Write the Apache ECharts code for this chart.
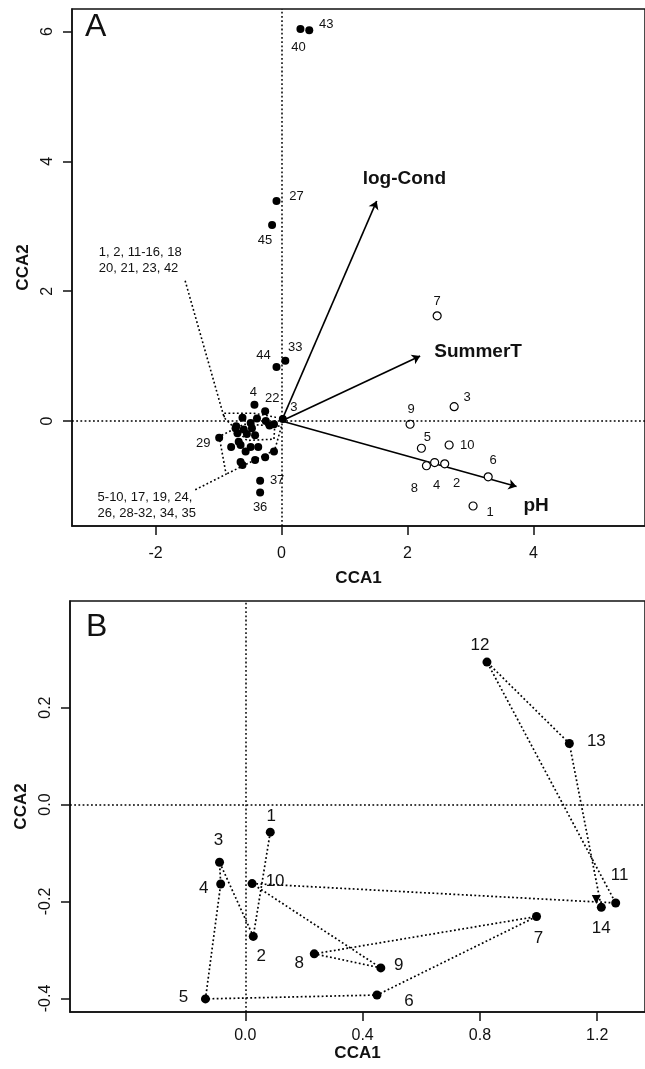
<!DOCTYPE html>
<html>
<head>
<meta charset="utf-8">
<script src="https://cdn.jsdelivr.net/npm/echarts@6/dist/echarts.min.js"></script>
<style>
* { margin: 0; padding: 0; }
body { background: #fff; }
#mychart { width: 645px; height: 1069px; }
</style>
</head>
<body>
<div id="mychart"></div>
<script>
// ---- panel A: species scores (filled), empty name = unlabelled
const spName = ['40','43','27','45','33','44','4','22','3','29','37','36',
  '','','','','','','','','','','','','','','','','','','','','','','',''];
const spX = [0.30, 0.44, -0.08, -0.15, 0.06, -0.08, -0.43, -0.26, 0.02, -0.99, -0.34, -0.34,
  -0.62, -0.73, -0.60, -0.47, -0.70, -0.55, -0.42, -0.80, -0.65, -0.49, -0.37, -0.57,
  -0.68, -0.62, -0.65, -0.42, -0.26, -0.12, -0.72, -0.49, -0.39, -0.25, -0.19, -0.12];
const spY = [6.04, 6.02, 3.39, 3.02, 0.93, 0.83, 0.25, 0.15, 0.03, -0.26, -0.92, -1.10,
  0.05, -0.11, -0.13, -0.11, -0.19, -0.20, -0.22, -0.40, -0.37, -0.40, -0.40, -0.47,
  -0.32, -0.68, -0.63, -0.60, -0.56, -0.47, -0.08, -0.03, 0.04, 0.00, -0.07, -0.05];

// ---- panel A: site scores (open)
const siteName = ['1','2','3','4','5','6','7','8','9','10'];
const siteX = [3.04, 2.59, 2.74, 2.43, 2.22, 3.28, 2.47, 2.30, 2.04, 2.66];
const siteY = [-1.31, -0.66, 0.22, -0.64, -0.42, -0.86, 1.62, -0.69, -0.05, -0.37];

// ---- panel A: environmental vectors
const envName = ['log-Cond', 'SummerT', 'pH'];
const envX = [1.51, 2.20, 3.73];
const envY = [3.39, 1.00, -1.01];

// ---- panel A: grouped-species notes
const groupText = ['1, 2, 11-16, 18', '20, 21, 23, 42', '5-10, 17, 19, 24,', '26, 28-32, 34, 35'];

// ---- panel B: trajectory 1..14
const trajName = ['1','2','3','4','5','6','7','8','9','10','11','12','13','14'];
const trajX = [0.085, 0.027, -0.088, -0.084, -0.136, 0.449, 0.993, 0.235, 0.462, 0.023, 1.263, 0.824, 1.105, 1.214];
const trajY = [-0.057, -0.272, -0.119, -0.164, -0.401, -0.393, -0.231, -0.308, -0.337, -0.163, -0.203, 0.294, 0.126, -0.212];
const endX = [1.197];
const endY = [-0.196];

// tick labels
const ticksAx = [-2, 0, 2, 4];
const ticksAy = [0, 2, 4, 6];
const ticksBx = [0.0, 0.4, 0.8, 1.2];
const ticksBy = [-0.4, -0.2, 0.0, 0.2];

// label placement (pixels), style only
const spOff = {'40':[-2,18],'43':[17,-6],'27':[20,-5],'45':[-7,15],'33':[10,-13],'44':[-13,-12],
  '4':[-1,-12],'22':[7,-13],'3':[11,-12],'29':[-16,6],'37':[17,0],'36':[0,15]};
const siteOff = {'1':[17,6],'2':[12,20],'3':[13,-9],'4':[2,23],'5':[6,-11],'6':[5,-16],'7':[0,-14],
  '8':[-12,23],'9':[1,-15],'10':[18,0]};
const trajOff = {'1':[1,-16],'2':[8,20],'3':[-1,-22],'4':[-17,4],'5':[-22,-2],'6':[32,6],'7':[2,22],
  '8':[-15,9],'9':[18,-3],'10':[23,-2],'11':[4,-28],'12':[-7,-17],'13':[27,-2],'14':[0,21]};

const FONT = 'Liberation Sans, Arial, sans-serif';
const INK = '#111';
const DOTS = [1.8, 2.4];

function pts(xs, ys, names, off, fs) {
  return xs.map((x, i) => {
    const o = off[names[i]];
    return {
      value: [x, ys[i]],
      name: names[i],
      label: o ? { show: true, position: 'inside', offset: o, formatter: '{b}',
        color: INK, fontSize: fs, fontFamily: FONT, textBorderWidth: 0 } : { show: false }
    };
  });
}

function textPt(x, y, txt, fs, bold, align) {
  return {
    value: [x, y],
    label: { show: true, position: 'inside', formatter: txt, color: INK, fontSize: fs,
      fontWeight: bold ? 'bold' : 'normal', fontFamily: FONT, align: align || 'center',
      textBorderWidth: 0 }
  };
}

function xAx(grid, min, max, ticks, gap, dec, margin) {
  return {
    type: 'value', gridIndex: grid, min: min, max: max,
    name: 'CCA1', nameLocation: 'middle', nameGap: gap,
    nameTextStyle: { fontSize: 17, fontWeight: 'bold', color: INK, fontFamily: FONT },
    splitLine: { show: false },
    axisLine: { show: true, onZero: false, lineStyle: { color: INK, width: 1.5 } },
    axisTick: { show: true, length: 9, customValues: ticks, lineStyle: { color: INK, width: 1.5 } },
    axisLabel: { customValues: ticks, fontSize: 16, color: INK, fontFamily: FONT, margin: margin,
      formatter: v => v.toFixed(dec) }
  };
}
function yAx(grid, min, max, ticks, gap, dec) {
  return {
    type: 'value', gridIndex: grid, min: min, max: max,
    name: 'CCA2', nameLocation: 'middle', nameGap: gap, nameRotate: 90,
    nameTextStyle: { fontSize: 17, fontWeight: 'bold', color: INK, fontFamily: FONT },
    splitLine: { show: false },
    axisLine: { show: true, onZero: false, lineStyle: { color: INK, width: 1.5 } },
    axisTick: { show: true, length: 9, customValues: ticks, lineStyle: { color: INK, width: 1.5 } },
    axisLabel: { customValues: ticks, rotate: 90, fontSize: 16, color: INK, fontFamily: FONT, margin: 16,
      formatter: v => v.toFixed(dec) }
  };
}

function dotted(xi, coords) {
  return {
    type: 'line', xAxisIndex: xi, yAxisIndex: xi, data: coords, showSymbol: false, silent: true,
    lineStyle: { type: DOTS, color: '#000', width: 1.6 }
  };
}

function zeroLines(xi) {
  return {
    type: 'line', xAxisIndex: xi, yAxisIndex: xi, data: [], silent: true,
    markLine: {
      silent: true, symbol: ['none', 'none'], label: { show: false },
      lineStyle: { type: DOTS, color: '#000', width: 1.5 },
      data: [{ xAxis: 0 }, { yAxis: 0 }]
    }
  };
}

function initChart() {
  var chart = echarts.init(document.getElementById('mychart'));
  const option = {
    animation: false,
    grid: [
      { left: 72, top: 9, width: 588, height: 517, show: true, borderColor: INK, borderWidth: 1.5 },
      { left: 70, top: 601, width: 590, height: 411, show: true, borderColor: INK, borderWidth: 1.5 }
    ],
    xAxis: [
      xAx(0, -3.326, 5.769, ticksAx, 44, 0, 20),
      xAx(1, -0.598, 1.363, ticksBx, 31, 1, 16)
    ],
    yAxis: [
      yAx(0, -1.618, 6.348, ticksAy, 37, 0),
      yAx(1, -0.428, 0.420, ticksBy, 35, 1)
    ],
    graphic: [
      { type: 'text', left: 85, top: 11, style: { text: 'A', fontSize: 32, fontFamily: FONT, fill: INK } },
      { type: 'text', left: 86, top: 611, style: { text: 'B', fontSize: 32, fontFamily: FONT, fill: INK } }
    ],
    series: [
      zeroLines(0),
      zeroLines(1),
      // hulls around the crowded species
      dotted(0, [[-1.53, 2.16], [-0.91, 0.05], [-0.91, 0.12], [-0.45, 0.12], [-0.10, 0.06],
        [-0.12, -0.28], [-0.55, -0.30], [-0.91, 0.05]]),
      dotted(0, [[-1.37, -1.06], [-0.88, -0.82], [-0.99, -0.24], [-0.60, -0.05], [0.0, -0.08],
        [-0.11, -0.45], [-0.88, -0.82]]),
      {
        type: 'lines', coordinateSystem: 'cartesian2d', xAxisIndex: 0, yAxisIndex: 0,
        symbol: ['none', 'arrow'], symbolSize: 8, silent: true,
        lineStyle: { color: '#000', width: 1.7, opacity: 1 },
        data: envX.map((x, i) => ({ coords: [[0, 0], [x, envY[i]]] }))
      },
      {
        type: 'scatter', xAxisIndex: 0, yAxisIndex: 0, symbolSize: 8,
        itemStyle: { color: '#000', opacity: 1 },
        data: pts(spX, spY, spName, spOff, 13)
      },
      {
        type: 'scatter', xAxisIndex: 0, yAxisIndex: 0, symbolSize: 8,
        itemStyle: { color: '#fff', borderColor: '#000', borderWidth: 1.2, opacity: 1 },
        data: pts(siteX, siteY, siteName, siteOff, 13)
      },
      {
        type: 'scatter', xAxisIndex: 0, yAxisIndex: 0, symbolSize: 0, silent: true,
        itemStyle: { opacity: 1 },
        data: [
          textPt(1.95, 3.73, envName[0], 19, true),
          textPt(3.12, 1.06, envName[1], 19, true),
          textPt(4.04, -1.31, envName[2], 19, true),
          textPt(-2.90, 2.60, groupText[0], 13, false, 'left'),
          textPt(-2.90, 2.35, groupText[1], 13, false, 'left'),
          textPt(-2.92, -1.17, groupText[2], 13, false, 'left'),
          textPt(-2.92, -1.42, groupText[3], 13, false, 'left')
        ]
      },
      // panel B
      {
        type: 'line', xAxisIndex: 1, yAxisIndex: 1, symbol: 'circle', symbolSize: 9,
        itemStyle: { color: '#000', opacity: 1 },
        lineStyle: { type: DOTS, color: '#000', width: 1.7 },
        data: pts(trajX, trajY, trajName, trajOff, 17)
      },
      {
        type: 'scatter', xAxisIndex: 1, yAxisIndex: 1, symbol: 'triangle', symbolRotate: 180,
        symbolSize: 9, itemStyle: { color: '#000', opacity: 1 },
        data: endX.map((x, i) => [x, endY[i]])
      }
    ]
  };
  chart.setOption(option);
  window.addEventListener('resize', function () {
    chart.resize();
  });
}

initChart();
</script>
</body>
</html>
